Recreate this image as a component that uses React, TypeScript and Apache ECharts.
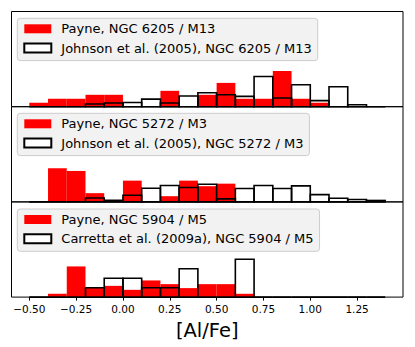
import React, { useEffect, useRef } from "react";
import * as echarts from "echarts";

// Left edges of the histogram bins ([Al/Fe]), bin width 0.1
const binLefts = [-0.5, -0.4, -0.3, -0.2, -0.1, 0.0, 0.1, 0.2, 0.3, 0.4, 0.5, 0.6, 0.7, 0.8, 0.9, 1.0, 1.1, 1.2, 1.3];
const binWidth = 0.1;

// Normalised histogram heights (density) per bin
const m13Payne = [0.25, 0.5, 0.5, 0.75, 0.75, 0, 0, 1.0, 0, 0.75, 1.5, 0.5, 0.5, 2.25, 0.5, 0.25, 0, 0, 0];
const m13Johnson = [0, 0, 0, 0.17, 0.23, 0.26, 0.48, 0.23, 0.67, 0.88, 0.75, 0.65, 1.9, 0.55, 1.38, 0.38, 1.26, 0.12, 0];
const m3Payne = [0, 2.12, 1.95, 0.55, 0, 1.34, 0, 0.36, 1.34, 0.99, 1.15, 0, 0, 0, 0, 0, 0, 0, 0];
const m3Johnson = [0, 0, 0, 0.25, 0.1, 0.42, 0.86, 1.03, 0.91, 1.11, 0.19, 0.84, 1.03, 0.84, 1.01, 0.46, 0.23, 0.15, 0.09];
const m5Payne = [0, 0.25, 2.32, 0.7, 0.85, 0.55, 1.26, 0.98, 0.68, 0.98, 0.98, 0.25, 0, 0, 0, 0, 0, 0, 0];
const m5Carretta = [0, 0, 0, 0.71, 1.43, 1.43, 0.71, 0.71, 2.14, 0, 0, 2.86, 0, 0, 0, 0, 0, 0, 0];

const panels = [
  { red: "Payne, NGC 6205 / M13", black: "Johnson et al. (2005), NGC 6205 / M13", redVals: m13Payne, blackVals: m13Johnson, yMax: 6 },
  { red: "Payne, NGC 5272 / M3", black: "Johnson et al. (2005), NGC 5272 / M3", redVals: m3Payne, blackVals: m3Johnson, yMax: 6 },
  { red: "Payne, NGC 5904 / M5", black: "Carretta et al. (2009a), NGC 5904 / M5", redVals: m5Payne, blackVals: m5Carretta, yMax: 7.2 },
];

const tickValues = [-0.5, -0.25, 0, 0.25, 0.5, 0.75, 1.0, 1.25];
const xMin = -0.595;
const xMax = 1.495;

const FONT = "DejaVu Sans";

export default function App() {
  const ref = useRef<HTMLDivElement>(null);
  useEffect(() => {
    if (!ref.current) return;
    const chart = echarts.init(ref.current, null, { renderer: "svg" });
    const tops = [11.5, 106.7, 201.9];
    const h = 95.2;
    const grids = tops.map((t) => ({
      left: 11.5,
      width: 391.5,
      top: t,
      height: h,
      show: true,
      borderColor: "#000",
      borderWidth: 1,
      backgroundColor: "transparent",
    }));
    const xAxes = panels.map((_, i) => ({
      type: "value",
      gridIndex: i,
      min: xMin,
      max: xMax,
      axisLine: { show: false },
      splitLine: { show: false },
      axisTick:
        i === 2
          ? { show: true, customValues: tickValues, length: 3.5, inside: false, lineStyle: { color: "#000", width: 1 } }
          : { show: false },
      axisLabel:
        i === 2
          ? {
              show: true,
              customValues: tickValues,
              margin: 6,
              fontFamily: FONT,
              fontSize: 10.5,
              color: "#000",
              formatter: (v: number) => (v < 0 ? "\u2212" : "") + Math.abs(v).toFixed(2),
            }
          : { show: false },
      name: i === 2 ? "[Al/Fe]" : "",
      nameLocation: "middle",
      nameGap: 23,
      nameTextStyle: { fontFamily: FONT, fontSize: 19.5, color: "#000" },
    }));
    const yAxes = panels.map((p, i) => ({
      type: "value",
      gridIndex: i,
      min: 0,
      max: p.yMax,
      show: false,
    }));
    const makeData = (vals: number[]) => binLefts.map((x, k) => [x, x + binWidth, vals[k]]);
    const series: any[] = [];
    panels.forEach((p, i) => {
      series.push({
        type: "custom",
        name: p.red,
        xAxisIndex: i,
        yAxisIndex: i,
        z: 2,
        itemStyle: { color: "#ff0000" },
        encode: { x: [0, 1], y: 2 },
        data: makeData(p.redVals),
        renderItem: (params: any, api: any) => {
          const v = api.value(2);
          if (!v) return null;
          const a = api.coord([api.value(0), 0]);
          const b = api.coord([api.value(1), v]);
          return {
            type: "rect",
            shape: { x: a[0], y: b[1], width: b[0] - a[0], height: a[1] - b[1] },
            style: { fill: "#ff0000" },
          };
        },
      });
      series.push({
        type: "custom",
        name: p.black,
        xAxisIndex: i,
        yAxisIndex: i,
        z: 3,
        itemStyle: { color: "#ffffff", borderColor: "#000", borderWidth: 2 },
        encode: { x: [0, 1], y: 2 },
        data: makeData(p.blackVals),
        renderItem: (params: any, api: any) => {
          const v = api.value(2);
          const a = api.coord([api.value(0), 0]);
          const b = api.coord([api.value(1), v]);
          return {
            type: "rect",
            shape: { x: a[0], y: b[1], width: b[0] - a[0], height: a[1] - b[1] },
            style: { fill: "none", stroke: "#000", lineWidth: 1.6 },
          };
        },
      });
    });
    const legendTops = [18.3, 113.3, 209];
    const legends = panels.map((p, i) => ({
      left: 17.3,
      top: legendTops[i],
      orient: "vertical",
      itemWidth: 27,
      itemHeight: 9,
      itemGap: 4.3,
      padding: [3, 6, 5, 6],
      backgroundColor: "#f2f2f2",
      borderColor: "#cccccc",
      borderWidth: 1,
      borderRadius: 3,
      selectedMode: false,
      textStyle: { fontFamily: FONT, fontSize: 13, color: "#000", lineHeight: 15, padding: [0, 0, 0, 5] },
      data: [
        { name: p.red, icon: "rect", itemStyle: { color: "#ff0000", borderWidth: 0 } },
        { name: p.black, icon: "rect", itemStyle: { color: "#ffffff", borderColor: "#000", borderWidth: 2 } },
      ],
    }));
    chart.setOption({
      animation: false,
      backgroundColor: "#fff",
      grid: grids,
      xAxis: xAxes,
      yAxis: yAxes,
      legend: legends,
      series,
    });
    return () => chart.dispose();
  }, []);
  return (
    <div
      ref={ref}
      style={{ position: "absolute", left: 0, top: 0, width: 415, height: 347 }}
    />
  );
}
